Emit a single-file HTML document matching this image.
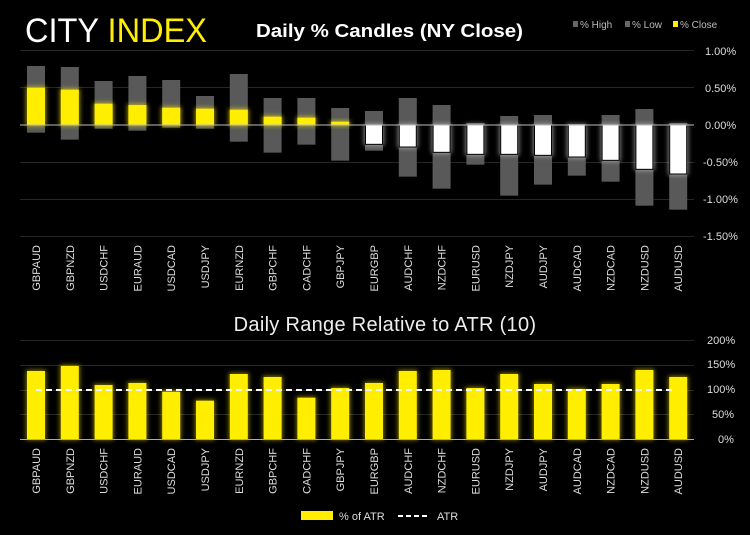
<!DOCTYPE html>
<html><head><meta charset="utf-8"><style>
html,body{margin:0;padding:0;background:#000;width:750px;height:535px;overflow:hidden}
svg{display:block}
text{font-family:"Liberation Sans","DejaVu Sans",sans-serif}
</style></head><body>
<svg width="750" height="535" viewBox="0 0 750 535" xmlns="http://www.w3.org/2000/svg">
<defs>
<filter id="glow" x="-50%" y="-50%" width="200%" height="200%"><feGaussianBlur stdDeviation="2.5"/></filter>
</defs>
<rect width="750" height="535" fill="#000"/>
<text x="25" y="42" font-size="34" fill="#fff" textLength="182" lengthAdjust="spacingAndGlyphs" style="font-family:'Liberation Sans';font-weight:normal">CITY <tspan fill="#ffee00">INDEX</tspan></text>
<text x="256" y="37" font-size="18" font-weight="bold" fill="#fff" textLength="267" lengthAdjust="spacingAndGlyphs">Daily % Candles (NY Close)</text>
<g font-size="10" fill="#bbb">
<rect x="573" y="21" width="5" height="6" fill="#666"/><text x="580" y="28">% High</text>
<rect x="625" y="21" width="5" height="6" fill="#666"/><text x="632" y="28">% Low</text>
<rect x="673" y="21" width="5" height="6" fill="#ffee00"/><text x="680" y="28">% Close</text>
</g>
<g stroke="#262626" stroke-width="1">
<line x1="20" x2="694" y1="50.5" y2="50.5"/><line x1="20" x2="694" y1="87.5" y2="87.5"/>
<line x1="20" x2="694" y1="162.5" y2="162.5"/><line x1="20" x2="694" y1="199.5" y2="199.5"/><line x1="20" x2="694" y1="236.5" y2="236.5"/>
</g>
<g font-size="11" fill="#ddd">
<text x="705" y="55">1.00%</text><text x="705" y="92">0.50%</text><text x="705" y="129">0.00%</text>
<text x="703" y="166">-0.50%</text><text x="703" y="203">-1.00%</text><text x="703" y="240">-1.50%</text>
</g>
<g id="gtop"></g>
<line x1="20" x2="694" y1="125" y2="125" stroke="#bbb" stroke-width="1"/>
<g id="gtoplab" font-size="11" fill="#ddd"></g>
<text x="385" y="331" font-size="20" fill="#eee" text-anchor="middle" letter-spacing="0.3">Daily Range Relative to ATR (10)</text>
<g stroke="#262626">
<line x1="20" x2="694" y1="340.5" y2="340.5"/><line x1="20" x2="694" y1="365.5" y2="365.5"/>
<line x1="20" x2="694" y1="390.5" y2="390.5"/><line x1="20" x2="694" y1="414.5" y2="414.5"/>
</g>
<g font-size="11" fill="#ddd">
<text x="707" y="344">200%</text><text x="707" y="368">150%</text><text x="707" y="393">100%</text><text x="712" y="418">50%</text><text x="718" y="443">0%</text>
</g>
<g id="gbot"></g>
<line x1="20" x2="694" y1="439.5" y2="439.5" stroke="#aaa"/>
<line x1="36" x2="675" y1="390" y2="390" stroke="#fff" stroke-width="2" stroke-dasharray="6,4"/>
<g id="gbotlab" font-size="11" fill="#ddd"></g>
<rect x="301" y="511" width="32" height="9" fill="#ffee00"/>
<text x="339" y="520" font-size="11" fill="#ddd">% of ATR</text>
<line x1="398" x2="430" y1="516" y2="516" stroke="#fff" stroke-width="2" stroke-dasharray="5,3"/>
<text x="437" y="520" font-size="11" fill="#ddd">ATR</text>
</svg>
<script>
(function(){
var names=["GBPAUD","GBPNZD","USDCHF","EURAUD","USDCAD","USDJPY","EURNZD","GBPCHF","CADCHF","GBPJPY","EURGBP","AUDCHF","NZDCHF","EURUSD","NZDJPY","AUDJPY","AUDCAD","NZDCAD","NZDUSD","AUDUSD"];
var d=[[198,263,398],[201,269,419],[243,311,386],[228,315,392],[240,323,383],[288,326,386],[222,329,425],[294,350,458],[294,353,434],[324,365,482],[333,433,452],[294,441,530],[315,457,566],[369,463,494],[348,463,587],[345,466,554],[372,471,527],[345,481,545],[327,508,617],[369,522,629]];
var b=[213,198,255,249,275,302,222,231,293,264,249,213,210,264,222,252,267,252,210,231];
var ns="http://www.w3.org/2000/svg";
function el(p,t,a){var e=document.createElementNS(ns,t);for(var k in a)e.setAttribute(k,a[k]);p.appendChild(e);return e;}
var gt=document.getElementById("gtop"),tl=document.getElementById("gtoplab"),gb=document.getElementById("gbot"),bl=document.getElementById("gbotlab");
for(var i=0;i<20;i++){
 var x=27+i*33.8,cx=x+9;
 var h=d[i][0]/3,c=d[i][1]/3,l=d[i][2]/3,z=125;
 el(gt,"rect",{x:x,y:h,width:18,height:l-h,fill:"#595959"});
 var y0=Math.min(c,z),hh=Math.abs(c-z);
 el(gt,"rect",{x:x-1,y:y0-1,width:20,height:hh+2,fill:c<z?"#ffee00":"#ddd",opacity:0.6,filter:"url(#glow)"});
 if(c<z) el(gt,"rect",{x:x,y:y0,width:18,height:hh,fill:"#ffee00"});
 else el(gt,"rect",{x:x+0.5,y:y0,width:17,height:hh,fill:"#fff",stroke:"#000","stroke-width":1});
 var t=el(tl,"text",{transform:"translate("+(cx+4)+",245) rotate(-90)","text-anchor":"end"});t.textContent=names[i];
 var by=300+b[i]/3;
 el(gb,"rect",{x:x-1,y:by-1,width:20,height:439-by+2,fill:"#ffee00",opacity:0.5,filter:"url(#glow)"});
 el(gb,"rect",{x:x,y:by,width:18,height:439-by,fill:"#ffee00"});
 var t2=el(bl,"text",{transform:"translate("+(cx+4)+",448) rotate(-90)","text-anchor":"end"});t2.textContent=names[i];
}
})();
</script>
</body></html>
